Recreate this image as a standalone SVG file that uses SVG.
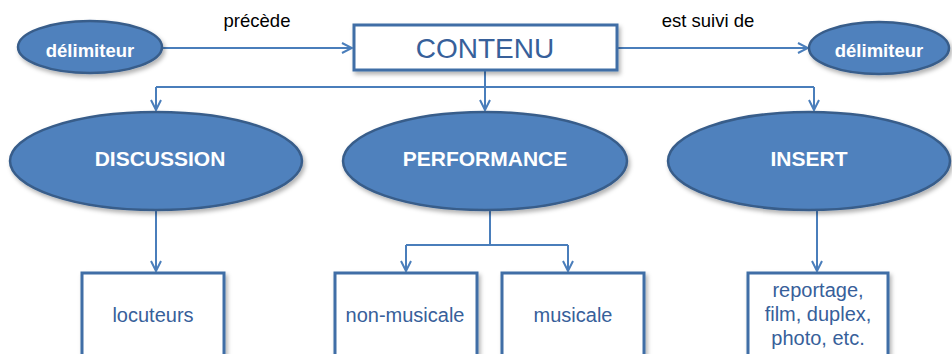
<svg xmlns="http://www.w3.org/2000/svg" width="952" height="354" viewBox="0 0 952 354">
<defs>
<style>
.ell{fill:#4f81bd;stroke:#385d8a;stroke-width:2.5;filter:url(#sh)}
.box{fill:#fff;stroke:#3f6ea6;stroke-width:3;filter:url(#sh)}
.et{font-family:"Liberation Sans",Arial,sans-serif;font-weight:bold;fill:#fff;text-anchor:middle}
.bt{font-family:"Liberation Sans",Arial,sans-serif;fill:#37609a;text-anchor:middle;font-size:20px}
.lbl{font-family:"Liberation Sans",Arial,sans-serif;fill:#000;text-anchor:middle;font-size:18.5px}
.con{fill:none;stroke:#4a7ebb;stroke-width:2}
</style>
<filter id="sh" x="-10%" y="-10%" width="130%" height="140%">
<feDropShadow dx="2" dy="3" stdDeviation="2" flood-color="#000" flood-opacity="0.3"/>
</filter>
<marker id="ar" viewBox="0 0 12 12" refX="11" refY="6" markerWidth="12" markerHeight="12" markerUnits="userSpaceOnUse" orient="auto">
<path d="M1,1 L11,6 L1,11" fill="none" stroke="#4a7ebb" stroke-width="2"/>
</marker>
</defs>
<rect width="952" height="354" fill="#fff"/>
<g id="connectors">
<path class="con" d="M163,48 H352" marker-end="url(#ar)"/>
<path class="con" d="M617,48 H808" marker-end="url(#ar)"/>
<path class="con" d="M485,70 V110" marker-end="url(#ar)"/>
<path class="con" d="M156,87 H814"/>
<path class="con" d="M156,87 V110" marker-end="url(#ar)"/>
<path class="con" d="M814,87 V110" marker-end="url(#ar)"/>
<path class="con" d="M156,210 V271" marker-end="url(#ar)"/>
<path class="con" d="M490,210 V245"/>
<path class="con" d="M406,245 H568"/>
<path class="con" d="M406,245 V271" marker-end="url(#ar)"/>
<path class="con" d="M568,245 V271" marker-end="url(#ar)"/>
<path class="con" d="M817,210 V271" marker-end="url(#ar)"/>
<text class="lbl" x="257" y="27">précède</text>
<text class="lbl" x="708" y="27">est suivi de</text>
</g>
<g id="delim1">
<ellipse class="ell" cx="90" cy="47" rx="72" ry="26"/>
<text class="et" x="90" y="57" font-size="18.5">délimiteur</text>
</g>
<g id="contenu">
<rect class="box" x="354" y="25" width="263" height="45"/>
<text x="485" y="58" font-family="Liberation Sans,Arial,sans-serif" font-size="28" fill="#37609a" text-anchor="middle">CONTENU</text>
</g>
<g id="delim2">
<ellipse class="ell" cx="879" cy="48" rx="70" ry="26"/>
<text class="et" x="879" y="57" font-size="18.5">délimiteur</text>
</g>
<g id="discussion">
<ellipse class="ell" cx="156" cy="161" rx="146" ry="49"/>
<text class="et" x="160" y="166" font-size="21">DISCUSSION</text>
</g>
<g id="performance">
<ellipse class="ell" cx="485" cy="161" rx="142" ry="49"/>
<text class="et" x="485" y="166" font-size="21">PERFORMANCE</text>
</g>
<g id="insert">
<ellipse class="ell" cx="809" cy="161" rx="141" ry="49"/>
<text class="et" x="809" y="166" font-size="21">INSERT</text>
</g>
<g id="locuteurs">
<rect class="box" x="82" y="273" width="142" height="90"/>
<text class="bt" x="153" y="322">locuteurs</text>
</g>
<g id="nonmusicale">
<rect class="box" x="335" y="273" width="142" height="90"/>
<text class="bt" x="405" y="322">non-musicale</text>
</g>
<g id="musicale">
<rect class="box" x="502" y="273" width="142" height="90"/>
<text class="bt" x="573" y="322">musicale</text>
</g>
<g id="insertbox">
<rect class="box" x="748" y="273" width="140" height="90"/>
<text class="bt" x="818" y="297">reportage,</text>
<text class="bt" x="818" y="321">film, duplex,</text>
<text class="bt" x="818" y="345">photo, etc.</text>
</g>
</svg>
